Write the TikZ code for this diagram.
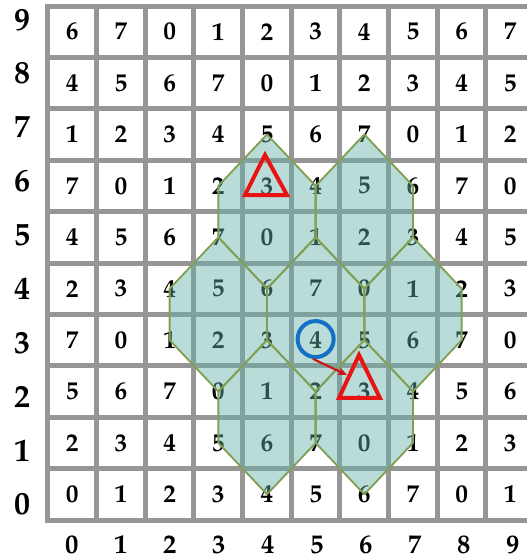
\documentclass[tikz,border=0pt]{standalone}
\usepackage{fontspec}
\setmainfont{TeX Gyre Pagella}
\usetikzlibrary{arrows.meta}
\definecolor{gridgray}{RGB}{150,150,150}
\definecolor{hexfill}{RGB}{100,178,170}
\definecolor{hexedge}{RGB}{130,160,85}
\definecolor{trired}{RGB}{232,20,20}
\definecolor{circblue}{RGB}{20,112,196}
\definecolor{arrred}{RGB}{205,20,20}
\tikzset{
  gridline/.style={draw=gridgray, line width=3.75pt, line cap=rect},
  celldigit/.style={font=\fontsize{19}{19}\selectfont\bfseries, inner sep=0pt, anchor=center},
  rowlab/.style={font=\fontsize{24}{24}\selectfont\bfseries, inner sep=0pt},
  collab/.style={font=\fontsize{20}{20}\selectfont\bfseries, inner sep=0pt},
  hexline/.style={draw=hexedge, line width=1.4pt, line join=round},
  warn/.style={draw=trired, line width=3pt, line join=miter},
}
\begin{document}
\begin{tikzpicture}[x=36.5pt,y=38.55pt]
\useasboundingbox (-0.986,-0.778) rectangle (9.842,10.117);
\clip (-0.986,-0.778) rectangle (9.842,10.117);
\fill[white] (-0.986,-0.778) rectangle (9.842,10.117);
% grid
\foreach \i in {0,...,10} \draw[gridline] (\i,0) -- (\i,10);
\foreach \j in {0,...,10} \draw[gridline] (0,\j) -- (10,\j);
% digits
\foreach \r/\vals in {9/{6,7,0,1,2,3,4,5,6,7},8/{4,5,6,7,0,1,2,3,4,5},7/{1,2,3,4,5,6,7,0,1,2},6/{7,0,1,2,3,4,5,6,7,0},5/{4,5,6,7,0,1,2,3,4,5},4/{2,3,4,5,6,7,0,1,2,3},3/{7,0,1,2,3,4,5,6,7,0},2/{5,6,7,0,1,2,3,4,5,6},1/{2,3,4,5,6,7,0,1,2,3},0/{0,1,2,3,4,5,6,7,0,1}}{
  \foreach \v [count=\c from 0] in \vals {
    \node[celldigit] (d-\c-\r) at (\c+0.5,\r+0.5) {\v};
  }
}
% axis labels
\foreach \r in {0,...,9} \node[rowlab] (row-\r) at (-0.514,0.307+1.047*\r) {\r};
\foreach \c in {0,...,9} \node[collab] (col-\c) at (0.49+1.007*\c,-0.48) {\c};
% hexagons
\fill[hexfill, opacity=0.45]
  \foreach \x/\y in {4.5/6,6.5/6,3.5/4,5.5/4,7.5/4,4.5/2,6.5/2}
  {(\x,\y+1.5) -- (\x+1,\y+0.5) -- (\x+1,\y-0.5) -- (\x,\y-1.5) -- (\x-1,\y-0.5) -- (\x-1,\y+0.5) -- cycle};
\foreach \x/\y in {4.5/6,6.5/6,3.5/4,5.5/4,7.5/4,4.5/2,6.5/2}
  \draw[hexline] (\x,\y+1.5) -- (\x+1,\y+0.5) -- (\x+1,\y-0.5) -- (\x,\y-1.5) -- (\x-1,\y-0.5) -- (\x-1,\y+0.5) -- cycle;
% triangles
\coordinate (ta1) at (4.459,7.101);
\coordinate (tb1) at (4.048,6.323);
\coordinate (tc1) at (4.911,6.323);
\draw[warn] (ta1) -- (tb1) -- (tc1) -- cycle;
\coordinate (ta2) at (6.390,3.210);
\coordinate (tb2) at (5.979,2.374);
\coordinate (tc2) at (6.821,2.374);
\draw[warn] (ta2) -- (tb2) -- (tc2) -- cycle;
% circle and arrow
\node[circle, draw=circblue, line width=3pt, minimum size=27pt, inner sep=0pt] (o) at (5.5,3.52) {};
\coordinate (tip) at (6.144,2.821);
\draw[draw=arrred, line width=1.6pt, -{Stealth[length=7pt,width=6pt]}] (o.262) -- (tip);
\end{tikzpicture}
\end{document}
